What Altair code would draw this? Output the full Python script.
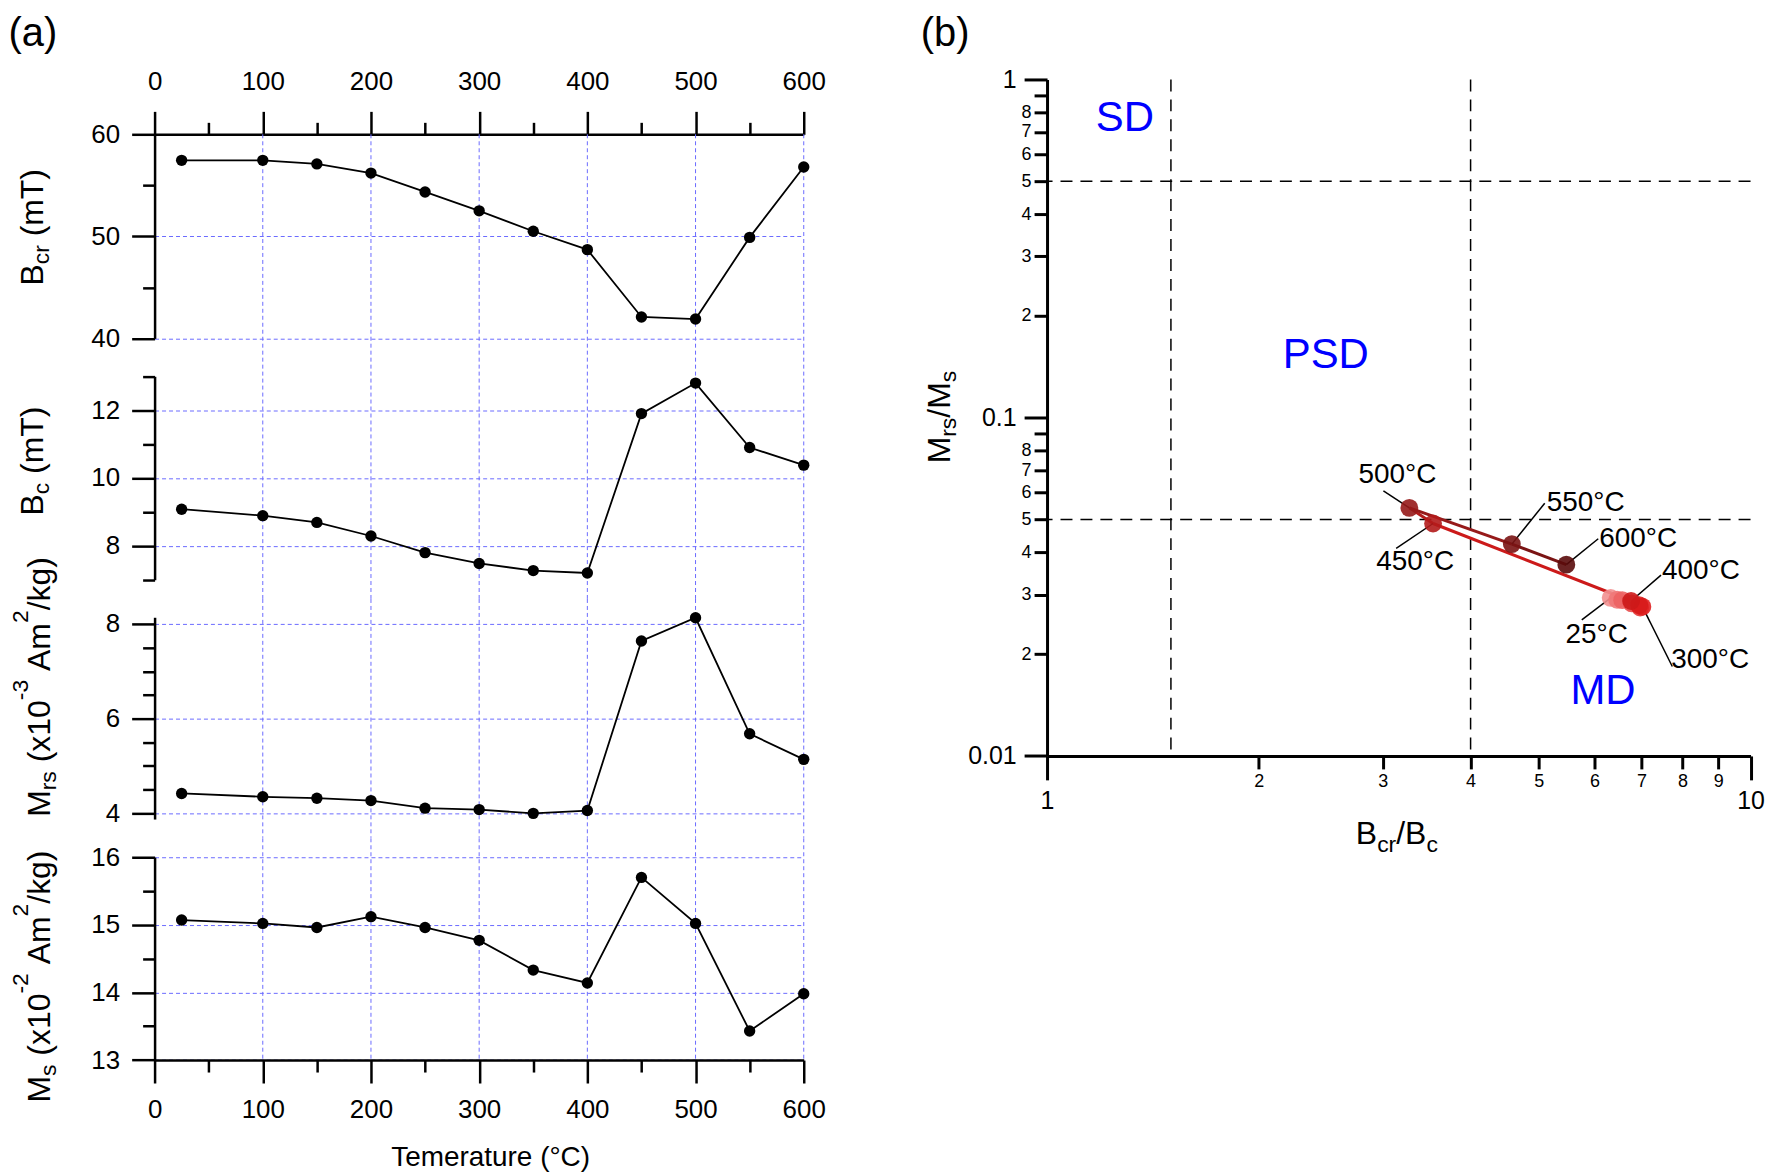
import altair as alt
import pandas as pd

# ---------------- data ----------------
TEMPS = [25, 100, 150, 200, 250, 300, 350, 400, 450, 500, 550, 600]
BCR = [57.45, 57.45, 57.1, 56.2, 54.35, 52.5, 50.5, 48.7, 42.1, 41.9, 49.9, 56.8]
BC = [9.08, 8.89, 8.69, 8.29, 7.80, 7.48, 7.27, 7.20, 11.90, 12.80, 10.90, 10.38]
MRS = [4.42, 4.35, 4.32, 4.27, 4.11, 4.08, 4.00, 4.06, 7.64, 8.13, 5.68, 5.14]
MS = [15.07, 15.02, 14.96, 15.12, 14.96, 14.77, 14.33, 14.14, 15.70, 15.02, 13.43, 13.98]

X_MAJOR = [0, 100, 200, 300, 400, 500, 600]
X_MINOR = [50, 150, 250, 350, 450, 550]
X_GRID = [100, 200, 300, 400, 500, 600]

BCR_MAJOR = [40, 50, 60]
BCR_MINOR = [45, 55]
BC_MAJOR = [8, 10, 12]
BC_MINOR = [7, 9, 11, 13]
MRS_MAJOR = [4, 6, 8]
MRS_MINOR = [4.5, 5, 5.5, 6.5, 7, 7.5]
MS_MAJOR = [13, 14, 15, 16]
MS_MINOR = [13.5, 14.5, 15.5]

B_X_MAJOR = [1, 10]
B_X_MINOR = [2, 3, 4, 5, 6, 7, 8, 9]
B_Y_MAJOR = [0.01, 0.1, 1]
B_Y_MINOR = [0.02, 0.03, 0.04, 0.05, 0.06, 0.07, 0.08, 0.09,
             0.2, 0.3, 0.4, 0.5, 0.6, 0.7, 0.8, 0.9]
B_HLINES = [0.5, 0.05]
B_VLINES = [1.5, 4]
REGION_NAMES = ["SD", "PSD", "MD"]
REGION_X = [1.29, 2.49, 6.17]
REGION_Y = [0.769, 0.153, 0.0156]
LABELED_TEMPS = [500, 450, 550, 600, 400, 25, 300]

# ---------------- style ----------------
FONT = "Liberation Sans"
GRID = "#6b6bff"
POINT_COLORS = ["#f29090", "#f07878", "#ec6262", "#e84c4c", "#e43636", "#e02020",
                "#d81c1c", "#cc1a1a", "#b31b1b", "#961a1a", "#7a1414", "#5a0b0b"]
# label layout: temp -> (label dx, label dy, leader end dx, leader end dy) in px
LABEL_LAYOUT = {
    500: (-12, -33, -26, -17),
    450: (-18, 39, -37, 25),
    550: (74, -41, 33, -41),
    600: (72, -26, 32, -26),
    400: (70, -30, 30, -26),
    25: (-14, 37, -29, 22),
    300: (68, 54, 30, 60),
}

W_A = 651
W_B = 705.5
H_B = 678.4

df = pd.DataFrame({"T": TEMPS, "Bcr": BCR, "Bc": BC, "Mrs": MRS, "Ms": MS})

CW = {" ": 278, "(": 333, ")": 333, "-": 333, "/": 278, ".": 278, "A": 667, "B": 667,
      "C": 722, "M": 833, "T": 611, "a": 556, "c": 500, "e": 556, "g": 556, "k": 500,
      "m": 833, "r": 333, "s": 500, "t": 278, "u": 556, "x": 500, "°": 400}


def tw(s, size):
    return sum(CW.get(ch, 556) for ch in s) / 1000.0 * size


def one(txt):
    return pd.DataFrame({"t": [txt]})


def text_piece(txt, x, y, size, angle=0, align="left", baseline="alphabetic", color="black"):
    return alt.Chart(one(txt)).mark_text(
        font=FONT, fontSize=size, angle=angle, align=align, baseline=baseline, color=color
    ).encode(text="t:N", x=alt.value(x), y=alt.value(y))


def rich(pieces, base_x, base_y, vertical, fs=32, small=23, sub_shift=6, sup_shift=22):
    out = []
    cum = 0.0
    for txt, kind in pieces:
        size = fs if kind == "n" else small
        stripped = txt.lstrip(" ")
        cum += tw(" " * (len(txt) - len(stripped)), size)
        shift = 0 if kind == "n" else (sub_shift if kind == "sub" else -sup_shift)
        if vertical:
            out.append(text_piece(stripped, base_x + shift, base_y - cum, size, angle=270))
        else:
            out.append(text_piece(stripped, base_x + cum, base_y + shift, size))
        cum += tw(stripped, size)
    return out


AX_COMMON = dict(tickColor="black", domainColor="black", labelColor="black", labelFont=FONT,
                 labelFlush=False, labelOverlap=False, title=None)


def a_panel(field, dom, rng, height, majors, minors, extra, xpos=None):
    xs = alt.Scale(domain=[0, 600], nice=False, zero=False)
    ys = alt.Scale(domain=dom, range=rng, nice=False, zero=False)
    if xpos is None:
        xmaj = None
        xmin = None
    else:
        pad = 17 if xpos == "top" else 14
        xmaj = alt.Axis(orient=xpos, values=X_MAJOR, format="d", tickSize=23, tickWidth=2.5,
                        domainWidth=2.5, labelFontSize=26, labelPadding=pad, grid=False, **AX_COMMON)
        xmin = alt.Axis(orient=xpos, values=X_MINOR, tickSize=12, tickWidth=2.5, domain=False,
                        labels=False, grid=False, **AX_COMMON)
    ymaj = alt.Axis(orient="left", values=majors, format="d", tickSize=23, tickWidth=2.5,
                    domainWidth=2.5, labelFontSize=26, labelPadding=12, grid=True,
                    gridColor=GRID, gridDash=[4, 3], gridWidth=1, **AX_COMMON)
    ymin = alt.Axis(orient="left", values=minors, tickSize=12, tickWidth=2.5, domain=False,
                    labels=False, grid=False, **AX_COMMON)

    vgrid = alt.Chart(pd.DataFrame({"g": X_GRID})).mark_rule(
        color=GRID, strokeDash=[4, 3], strokeWidth=1
    ).encode(x=alt.X("g:Q", scale=xs, axis=xmaj))
    enc = dict(x=alt.X("T:Q", scale=xs, axis=xmaj), y=alt.Y(f"{field}:Q", scale=ys, axis=ymaj))
    line = alt.Chart(df).mark_line(color="black", strokeWidth=1.8).encode(**enc)
    pts = alt.Chart(df).mark_circle(color="black", size=130, opacity=1).encode(**enc)
    main = alt.layer(vgrid, line, pts, *extra)
    minor = alt.Chart(df).mark_point(opacity=0).encode(
        x=alt.X("T:Q", scale=xs, axis=xmin), y=alt.Y(f"{field}:Q", scale=ys, axis=ymin)
    )
    return alt.layer(main, minor).resolve_scale(x="independent", y="independent").properties(
        width=W_A, height=height
    )


# ---------------- panel (a) ----------------
T_BCR = rich([("B", "n"), ("cr", "sub"), (" (mT)", "n")], -111.5, 151.7, True)
T_BC = rich([("B", "n"), ("c", "sub"), (" (mT)", "n")], -111.5, 158.4, True)
T_MRS = rich([("M", "n"), ("rs", "sub"), (" (x10", "n"), ("-3", "sup"), (" Am", "n"),
              ("2", "sup"), ("/kg)", "n")], -105, 218.5, True)
T_MS = rich([("M", "n"), ("s", "sub"), (" (x10", "n"), ("-2", "sup"), (" Am", "n"),
             ("2", "sup"), ("/kg)", "n")], -105, 265, True)
T_TEMP = [text_piece("Temerature (°C)", 337, 329, 28, align="center")]

spacer = alt.layer(
    alt.Chart(one("")).mark_point(opacity=0).encode(x=alt.value(0), y=alt.value(0)),
    text_piece("(a)", -122, -45.7, 40, align="center", baseline="middle"),
).properties(width=W_A, height=54.3)

p1 = a_panel("Bcr", [40, 60], [204.7, 0], 223.3, BCR_MAJOR, BCR_MINOR, T_BCR, "top")
p2 = a_panel("Bc", [7, 13], [222.7, 18.7], 241.9, BC_MAJOR, BC_MINOR, T_BC)
p3 = a_panel("Mrs", [3.88, 8.14], [220.7, 18.35], 239.5, MRS_MAJOR, MRS_MINOR, T_MRS)
p4 = a_panel("Ms", [13, 16], [222.4, 18.9], 222.4, MS_MAJOR, MS_MINOR, T_MS + T_TEMP, "bottom")

pa = alt.vconcat(spacer, p1, p2, p3, p4, spacing=0, bounds="flush")

# ---------------- panel (b) ----------------
xs_b = alt.Scale(type="log", domain=[1, 10], nice=False)
ys_b = alt.Scale(type="log", domain=[0.01, 1], nice=False)
cscale = alt.Scale(domain=TEMPS, range=POINT_COLORS)

xmaj_b = alt.Axis(orient="bottom", values=B_X_MAJOR, format="d", tickSize=24, tickWidth=3,
                  domainWidth=3, labelFontSize=25, labelPadding=9, grid=False, **AX_COMMON)
ymaj_b = alt.Axis(orient="left", values=B_Y_MAJOR, format="~g", tickSize=23, tickWidth=3,
                  domainWidth=3, labelFontSize=25, labelPadding=8, grid=False, **AX_COMMON)
xmin_b = alt.Axis(orient="bottom", values=B_X_MINOR, format="d", tickSize=13, tickWidth=3,
                  domain=False, labelFontSize=18, labelPadding=4, grid=False, **AX_COMMON)
minor_expr = "round(datum.value < 0.1 ? datum.value*100 : datum.value*10)"
ymin_b = alt.Axis(orient="left", values=B_Y_MINOR, tickSize=13, tickWidth=3, domain=False,
                  labelFontSize=18, labelPadding=3, grid=False,
                  labelExpr=f"{minor_expr} == 9 ? '' : '' + {minor_expr}", **AX_COMMON)

base_b = alt.Chart(df).transform_calculate(
    rx="datum.Bcr / datum.Bc", ry="datum.Mrs / datum.Ms * 0.1", lab="datum.T + '°C'"
)
XB = alt.X("rx:Q", scale=xs_b, axis=xmaj_b)
YB = alt.Y("ry:Q", scale=ys_b, axis=ymaj_b)

hlines = alt.Chart(pd.DataFrame({"v": B_HLINES})).mark_rule(
    color="black", strokeDash=[12, 8], strokeWidth=1.5
).encode(y=alt.Y("v:Q", scale=ys_b, axis=ymaj_b))
vlines = alt.Chart(pd.DataFrame({"v": B_VLINES})).mark_rule(
    color="black", strokeDash=[12, 8], strokeWidth=1.5
).encode(x=alt.X("v:Q", scale=xs_b, axis=xmaj_b))

segments = base_b.transform_window(
    window=[alt.WindowFieldDef(op="lead", field="rx", **{"as": "nx"}),
            alt.WindowFieldDef(op="lead", field="ry", **{"as": "ny"})],
    sort=[alt.SortField(field="T", order="ascending")],
).transform_filter("isValid(datum.nx)").mark_rule(strokeWidth=3).encode(
    x=XB, y=YB, x2="nx:Q", y2="ny:Q", color=alt.Color("T:O", scale=cscale, legend=None)
)

leaders = []
labels = []
for t in LABELED_TEMPS:
    ldx, ldy, ex, ey = LABEL_LAYOUT[t]
    sel = base_b.transform_filter(f"datum.T == {t}")
    leaders.append(sel.mark_rule(color="black", strokeWidth=1.5, x2Offset=ex, y2Offset=ey).encode(
        x=XB, y=YB, x2="rx:Q", y2="ry:Q"))
    labels.append(sel.mark_text(dx=ldx, dy=ldy, fontSize=28, font=FONT, align="center",
                                baseline="middle", color="black").encode(
        x=XB, y=YB, text="lab:N"))

points_b = base_b.mark_circle(size=320, opacity=0.9).encode(
    x=XB, y=YB, color=alt.Color("T:O", scale=cscale, legend=None)
)

regions = alt.Chart(pd.DataFrame({"x": REGION_X, "y": REGION_Y, "lab": REGION_NAMES})).mark_text(
    fontSize=42, font=FONT, color="#0000ff", align="center", baseline="middle"
).encode(x=alt.X("x:Q", scale=xs_b, axis=xmaj_b), y=alt.Y("y:Q", scale=ys_b, axis=ymaj_b),
         text="lab:N")

T_BX = rich([("B", "n"), ("cr", "sub"), ("/B", "n"), ("c", "sub")], 309.7, 767, False,
            sub_shift=8)
T_BY = rich([("M", "n"), ("rs", "sub"), ("/M", "n"), ("s", "sub")], -97.6, 385, True)
T_B = [text_piece("(b)", -102.3, -45.7, 40, align="center", baseline="middle")]

main_b = alt.layer(hlines, vlines, segments, *leaders, points_b, *labels, regions,
                   *T_BX, *T_BY, *T_B)
minor_b = alt.Chart(pd.DataFrame({"x": [2.0], "y": [0.1]})).mark_point(opacity=0).encode(
    x=alt.X("x:Q", scale=xs_b, axis=xmin_b), y=alt.Y("y:Q", scale=ys_b, axis=ymin_b)
)
pb = alt.layer(main_b, minor_b).resolve_scale(x="independent", y="independent").properties(
    width=W_B, height=H_B
)

chart = alt.hconcat(pa, pb, spacing=95).properties(
    padding={"left": 0, "top": 4, "right": 0, "bottom": 0}
).configure(font=FONT).configure_view(stroke=None, strokeWidth=0)

chart.save("out.html", embed_options={"renderer": "svg", "actions": False})
